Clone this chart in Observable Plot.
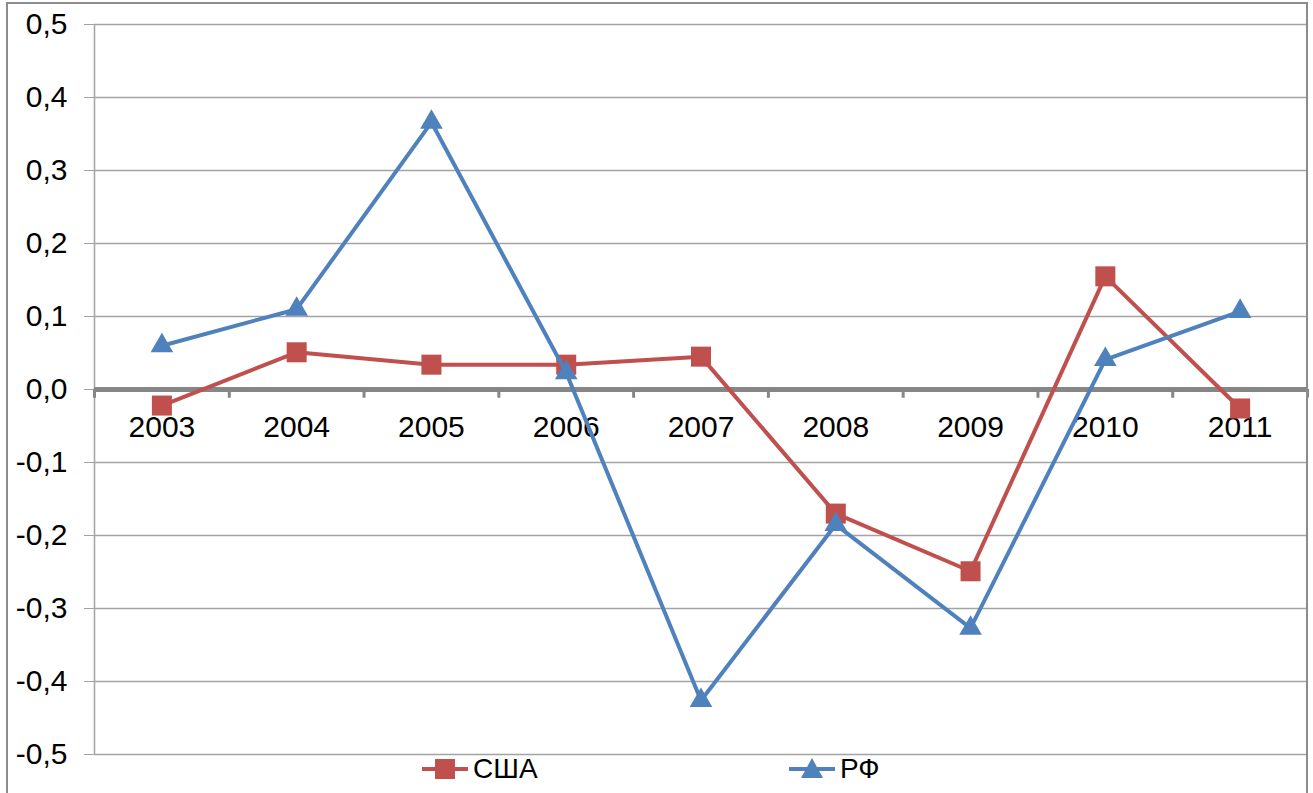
<!DOCTYPE html>
<html>
<head>
<meta charset="utf-8">
<script src="https://cdn.jsdelivr.net/npm/d3@7"></script>
<script src="https://cdn.jsdelivr.net/npm/@observablehq/plot@0.6"></script>
<style>
  html, body { margin: 0; padding: 0; background: #fff; }
  body { width: 1313px; height: 793px; position: relative; overflow: hidden; font-family: "Liberation Sans", Arial, sans-serif; }
  #chart { position: absolute; left: 0; top: 0; }
  #frame { position: absolute; left: 6px; top: 2px; width: 1302px; height: 820px; box-sizing: border-box;
           border: 2px solid #8c8c8c; pointer-events: none; z-index: 5; }
  #legend { position: absolute; left: 0; top: 756px; width: 1313px; height: 37px; }
  .item { position: absolute; top: 0; height: 26px; display: flex; align-items: center; font-size: 28px; color: #000; }
  .item svg { margin-right: 5px; }
</style>
</head>
<body>
<div id="chart"></div>
<div id="legend"></div>
<div id="frame"></div>
<script>
const years = [2003, 2004, 2005, 2006, 2007, 2008, 2009, 2010, 2011];
const usa = [-0.022, 0.051, 0.034, 0.034, 0.045, -0.170, -0.249, 0.155, -0.026];
const rf  = [0.060, 0.110, 0.366, 0.023, -0.426, -0.185, -0.327, 0.041, 0.107];
const yTicks = [-0.5, -0.4, -0.3, -0.2, -0.1, 0, 0.1, 0.2, 0.3, 0.4, 0.5];
const seriesNames = ["США", "РФ"];
const seriesColors = ["#C0504D", "#4F81BD"];
const seriesSymbols = ["square", "triangle"];

const data = [];
years.forEach((yr, i) => {
  data.push({year: yr, value: usa[i], series: seriesNames[0]});
});
years.forEach((yr, i) => {
  data.push({year: yr, value: rf[i], series: seriesNames[1]});
});
const boundaries = [years[0] - 0.5, ...years.map(y => y + 0.5)];
const fmt = d => d.toFixed(1).replace(".", ",");

const usaData = data.filter(d => d.series === seriesNames[0]);
const rfData = data.filter(d => d.series === seriesNames[1]);

const chart = Plot.plot({
  width: 1313,
  height: 756,
  marginLeft: 94,
  marginRight: 6,
  marginTop: 24,
  marginBottom: 2,
  x: {type: "linear", domain: [years[0] - 0.5, years[years.length - 1] + 0.5], axis: null},
  y: {domain: [-0.5, 0.5], axis: null},
  style: {fontFamily: "'Liberation Sans', Arial, sans-serif", background: "#fff", color: "#000", overflow: "visible"},
  marks: [
    Plot.ruleY(yTicks, {stroke: "#a3a3a3", strokeWidth: 1.5}),
    Plot.axisY(yTicks, {tickSize: 10, tickPadding: 17, stroke: "#a3a3a3", tickFormat: fmt, fontSize: 30, fill: "#000", anchor: "left", label: null}),
    Plot.ruleX([boundaries[0]], {stroke: "#a3a3a3", strokeWidth: 1.5}),
    Plot.ruleY([0], {stroke: "#868686", strokeWidth: 5}),
    Plot.ruleX(boundaries, {x: d => d, y1: () => 0, y2: () => -0.012, stroke: "#868686", strokeWidth: 3}),
    Plot.text(years, {x: d => d, y: () => 0, dy: 38, text: d => String(d), fontSize: 30, fill: "#000"}),
    Plot.line(usaData, {x: "year", y: "value", stroke: seriesColors[0], strokeWidth: 4}),
    Plot.dot(usaData, {x: "year", y: "value", symbol: seriesSymbols[0], r: 11.3, fill: seriesColors[0], stroke: "none"}),
    Plot.line(rfData, {x: "year", y: "value", stroke: seriesColors[1], strokeWidth: 4}),
    Plot.dot(rfData, {x: "year", y: "value", symbol: seriesSymbols[1], r: 8.4, fill: seriesColors[1], stroke: "none"})
  ]
});
document.getElementById("chart").appendChild(chart);

// Legend
const legend = document.getElementById("legend");
const legendLeft = [422, 789];
seriesNames.forEach((name, i) => {
  const item = document.createElement("div");
  item.className = "item";
  item.style.left = legendLeft[i] + "px";
  const marker = seriesSymbols[i] === "square"
    ? `<rect x="13" y="3" width="20" height="20" fill="${seriesColors[i]}"/>`
    : `<polygon points="23,2 34,22 12,22" fill="${seriesColors[i]}"/>`;
  item.innerHTML = `<svg width="46" height="26"><line x1="0" x2="46" y1="13" y2="13" stroke="${seriesColors[i]}" stroke-width="4"/>${marker}</svg><span>${name}</span>`;
  legend.appendChild(item);
});
</script>
</body>
</html>
